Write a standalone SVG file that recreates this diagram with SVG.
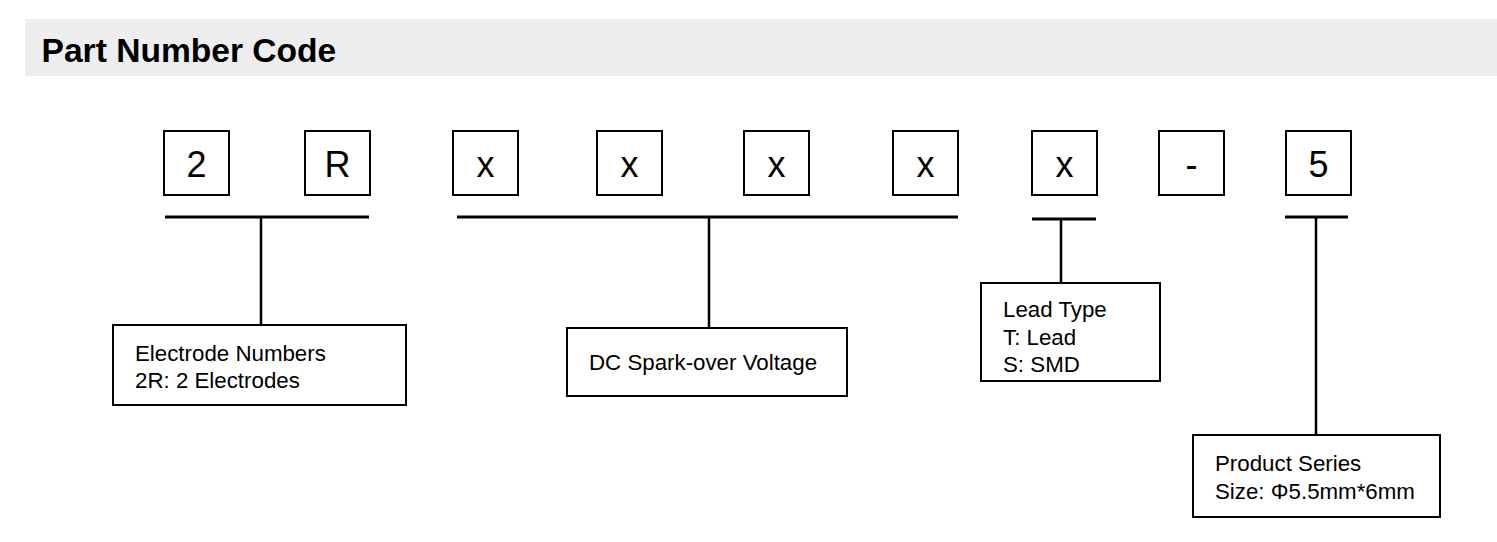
<svg xmlns="http://www.w3.org/2000/svg" width="1497" height="542" viewBox="0 0 1497 542">
<style>
.box{fill:#fff;stroke:#000;stroke-width:2}
.big{font-family:"Liberation Sans",Arial,sans-serif;font-size:36px;fill:#000;text-anchor:middle}
.lbl{font-family:"Liberation Sans",Arial,sans-serif;font-size:22.3px;fill:#000}
.ln{stroke:#000;stroke-width:3;fill:none}
.vl{stroke:#000;stroke-width:2.5;fill:none}
</style>
<rect width="1497" height="542" fill="#fff"/>
<g id="header">
<rect x="25" y="19" width="1472" height="57" fill="#eeeeee"/>
<text x="41.5" y="61.5" font-family="'Liberation Sans',Arial,sans-serif" font-size="33.6" font-weight="bold" fill="#000">Part Number Code</text>
</g>
<g id="c1"><rect class="box" x="164" y="131" width="65" height="64"/><text class="big" x="196.5" y="176.5">2</text></g>
<g id="c2"><rect class="box" x="305" y="131" width="65" height="64"/><text class="big" x="337.5" y="176.5">R</text></g>
<g id="c3"><rect class="box" x="453" y="131" width="65" height="64"/><text class="big" x="485.5" y="176.5">x</text></g>
<g id="c4"><rect class="box" x="597" y="131" width="65" height="64"/><text class="big" x="629.5" y="176.5">x</text></g>
<g id="c5"><rect class="box" x="744" y="131" width="65" height="64"/><text class="big" x="776.5" y="176.5">x</text></g>
<g id="c6"><rect class="box" x="893" y="131" width="65" height="64"/><text class="big" x="925.5" y="176.5">x</text></g>
<g id="c7"><rect class="box" x="1032" y="131" width="65" height="64"/><text class="big" x="1064.5" y="176.5">x</text></g>
<g id="c8"><rect class="box" x="1159" y="131" width="65" height="64"/><text class="big" x="1191.5" y="176.5">-</text></g>
<g id="c9"><rect class="box" x="1286" y="131" width="65" height="64"/><text class="big" x="1318.5" y="176.5">5</text></g>
<g id="connectors">
<line class="ln" x1="165" y1="217" x2="369" y2="217"/>
<line class="vl" x1="261" y1="217" x2="261" y2="325"/>
<line class="ln" x1="457" y1="217" x2="958" y2="217"/>
<line class="vl" x1="709" y1="217" x2="709" y2="328"/>
<line class="ln" x1="1032" y1="219" x2="1096" y2="219"/>
<line class="vl" x1="1061" y1="219" x2="1061" y2="283"/>
<line class="ln" x1="1285" y1="217" x2="1348" y2="217"/>
<line class="vl" x1="1316" y1="217" x2="1316" y2="435"/>
</g>
<g id="electrode">
<rect class="box" x="113" y="325" width="293" height="80"/>
<text class="lbl" x="135" y="361">Electrode Numbers</text>
<text class="lbl" x="135" y="388">2R: 2 Electrodes</text>
</g>
<g id="voltage">
<rect class="box" x="567" y="328" width="280" height="68"/>
<text class="lbl" x="589" y="370">DC Spark-over Voltage</text>
</g>
<g id="lead">
<rect class="box" x="981" y="283" width="179" height="98"/>
<text class="lbl" x="1003" y="317">Lead Type</text>
<text class="lbl" x="1003" y="344.5">T: Lead</text>
<text class="lbl" x="1003" y="372">S: SMD</text>
</g>
<g id="series">
<rect class="box" x="1193" y="435" width="247" height="82"/>
<text class="lbl" x="1215" y="470.5">Product Series</text>
<text class="lbl" x="1215" y="499">Size: Φ5.5mm*6mm</text>
</g>
</svg>
